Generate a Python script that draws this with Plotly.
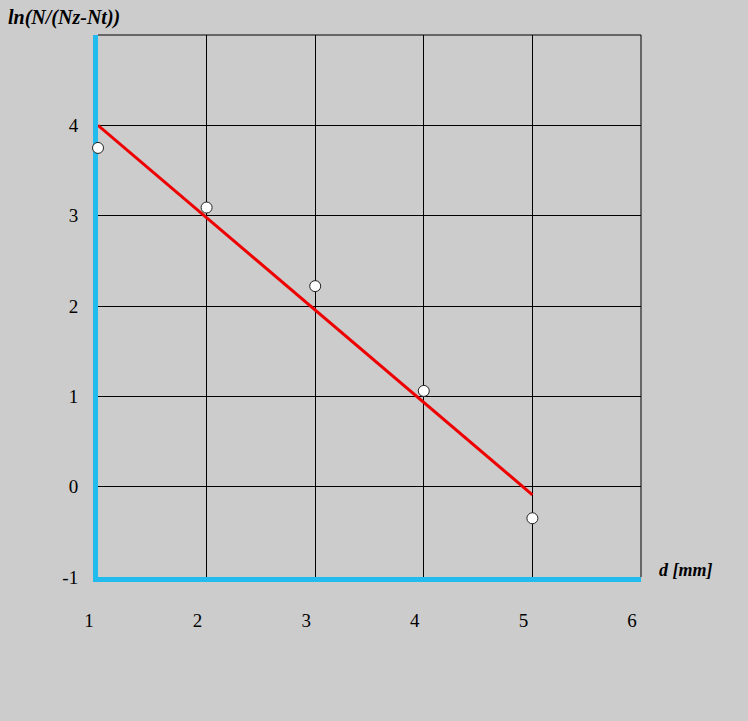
import plotly.graph_objects as go

# data
d_mm = [1, 2, 3, 4, 5]
ln_values = [3.75, 3.09, 2.22, 1.06, -0.35]
fit_x = [1, 5]
fit_y = [4.0, -0.09]
x_ticks = [1, 2, 3, 4, 5, 6]
y_ticks = [-1, 0, 1, 2, 3, 4]

BG = "#cccccc"
CYAN = "#22bbee"

fig = go.Figure()
fig.add_trace(go.Scatter(x=fit_x, y=fit_y, mode="lines", cliponaxis=False,
                         line=dict(color="#ee0000", width=3), showlegend=False))
fig.add_trace(go.Scatter(x=d_mm, y=ln_values, mode="markers", cliponaxis=False,
                         marker=dict(size=11, color="white", line=dict(color="#222222", width=1)),
                         showlegend=False))

fig.update_layout(
    width=748, height=721,
    paper_bgcolor=BG, plot_bgcolor=BG,
    margin=dict(l=98, r=107, t=35, b=144),
    font=dict(family="Liberation Serif", size=19, color="black"),
    xaxis=dict(range=[1, 6], tickvals=x_ticks, ticktext=[str(v) for v in x_ticks],
               showgrid=True, gridcolor="black", gridwidth=1, zeroline=False,
               showline=True, linecolor=CYAN, linewidth=5, layer="below traces",
               ticks="", ticklabelstandoff=22, ticklabelshift=-9),
    yaxis=dict(range=[-1, 5], tickvals=y_ticks, ticktext=[str(v) for v in y_ticks],
               showgrid=True, gridcolor="black", gridwidth=1, zeroline=False,
               showline=True, linecolor=CYAN, linewidth=5, layer="below traces",
               ticks="", ticklabelstandoff=11),
    shapes=[
        dict(type="line", xref="paper", yref="paper", x0=0, x1=1, y0=1, y1=1,
             line=dict(color="black", width=1), layer="below"),
        dict(type="line", xref="paper", yref="paper", x0=1, x1=1, y0=0, y1=1,
             line=dict(color="black", width=1), layer="below"),
    ],
    annotations=[
        dict(text="<b><i>ln(N/(Nz-Nt))</i></b>", xref="paper", yref="paper",
             x=-92/543, y=1 + 18/542, xanchor="left", yanchor="middle",
             showarrow=False, font=dict(size=20)),
        dict(text="<b><i>d [mm]</i></b>", xref="paper", yref="paper",
             x=1 + 16/543, y=7/542, xanchor="left", yanchor="middle",
             showarrow=False, font=dict(size=18)),
    ],
)

fig.write_html("out.html", config={"displayModeBar": False},
               post_script="document.body.style.margin='0';document.body.style.background='#cccccc';")
